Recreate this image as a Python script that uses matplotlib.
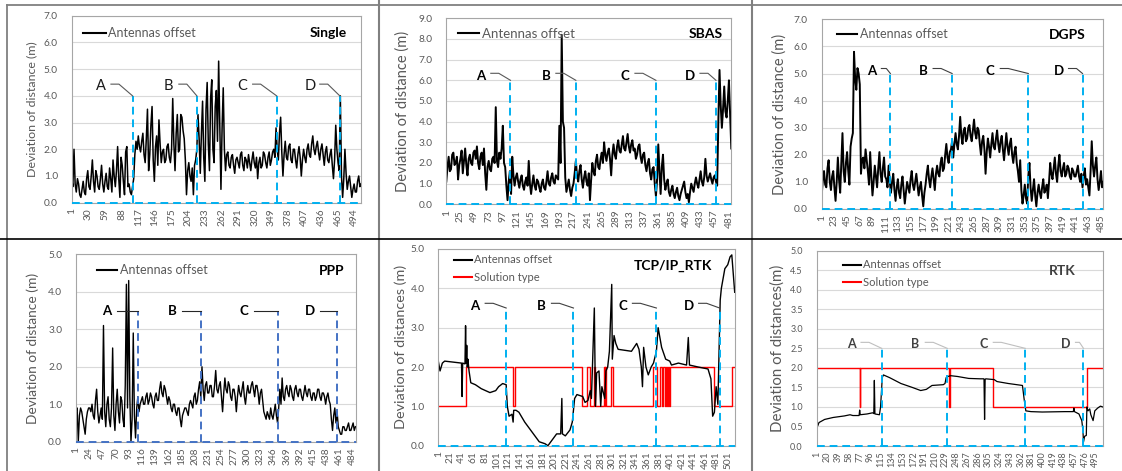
import matplotlib as mpl
import matplotlib.pyplot as plt
import numpy as np
from matplotlib.lines import Line2D
from matplotlib.ticker import FormatStrFormatter

mpl.rcParams['font.family'] = ['Lato', 'DejaVu Sans']

W, H = 1122, 471          # output size in pixels (dpi 100)
GREY = '#595959'
SKY = '#00b0f0'

# antenna offset (m), one value every 2nd epoch starting at epoch 1
single_offset = [
    0.9, 0.6, 2.0, 0.7, 0.4, 0.9, 0.7, 0.3, 0.2, 0.5, 0.8, 0.4, 0.3, 0.9, 1.2, 0.6, 0.5, 1.0, 1.6, 0.8,
    0.4, 1.2, 1.0, 0.6, 0.5, 0.9, 1.4, 0.7, 0.4, 0.8, 1.1, 0.6, 0.5, 1.3, 0.9, 0.4, 1.6, 1.0, 0.6, 1.2,
    2.1, 0.9, 0.2, 1.7, 1.4, 0.8, 0.3, 1.9, 2.1, 0.6, 0.7, 0.4, 0.3, 0.6, 0.9, 1.8, 2.3, 2.0, 2.5, 2.1,
    1.9, 2.3, 2.6, 1.8, 1.5, 2.4, 3.5, 1.2, 1.8, 2.9, 3.6, 1.6, 0.8, 2.1, 2.5, 1.4, 3.1, 2.2, 1.5, 1.9,
    2.0, 1.5, 1.6, 2.1, 2.2, 1.7, 1.5, 2.0, 3.9, 2.2, 1.2, 2.6, 3.3, 1.9, 2.0, 3.3, 3.2, 2.7, 2.4, 1.6,
    0.3, 1.2, 1.5, 1.0, 0.8, 1.3, 0.3, 1.4, 1.6, 2.0, 3.3, 2.4, 1.1, 2.6, 3.8, 1.7, 0.8, 3.5, 4.5, 2.2,
    1.2, 3.9, 4.6, 2.0, 1.5, 3.6, 4.2, 2.3, 5.3, 3.0, 0.5, 2.8, 4.3, 2.0, 1.2, 1.8, 1.9, 1.4, 1.3, 1.7,
    1.8, 1.4, 1.1, 1.6, 1.7, 1.5, 1.3, 1.8, 1.9, 1.4, 1.2, 1.7, 1.6, 1.3, 1.8, 1.5, 1.2, 1.6, 1.9, 1.5,
    1.3, 1.7, 0.9, 1.5, 1.7, 1.3, 1.4, 1.9, 1.8, 1.5, 1.3, 1.7, 1.9, 1.4, 1.6, 1.9, 2.0, 1.7, 2.8, 2.0,
    1.6, 2.6, 3.2, 1.9, 1.0, 1.8, 2.3, 1.7, 1.6, 2.1, 2.2, 1.6, 1.5, 2.0, 2.0, 1.6, 1.3, 1.8, 2.1, 1.7,
    1.0, 1.6, 2.0, 1.7, 1.5, 2.0, 2.2, 1.8, 1.7, 2.2, 2.5, 2.0, 1.8, 2.1, 2.3, 1.9, 1.6, 2.0, 2.2, 1.8,
    1.4, 1.9, 2.1, 1.6, 1.5, 1.8, 2.0, 1.4, 0.9, 1.6, 2.9, 2.0, 1.5, 1.2, 4.0, 1.0, 0.2, 0.9, 2.0, 1.1,
    0.5, 0.8, 1.0, 0.6, 0.2, 0.5, 0.7, 0.4, 0.4, 0.8, 1.0, 0.6, 0.7]

sbas_offset = [
    1.1, 1.8, 2.3, 1.6, 1.7, 2.4, 2.5, 1.9, 2.0, 2.3, 1.2, 1.9, 2.2, 2.6, 1.5, 2.1, 2.7, 1.9, 1.4, 2.2,
    2.4, 2.0, 1.9, 2.5, 2.6, 2.2, 2.8, 2.0, 1.7, 2.3, 2.5, 1.9, 2.7, 1.5, 0.7, 1.8, 2.1, 1.7, 1.6, 2.2,
    2.3, 2.0, 4.7, 2.1, 1.8, 2.5, 2.2, 2.7, 3.8, 2.0, 1.8, 0.9, 0.2, 1.1, 1.6, 0.5, 2.3, 1.4, 0.9, 1.3,
    1.5, 1.1, 0.8, 1.2, 1.4, 0.9, 0.7, 1.1, 1.3, 0.9, 2.1, 1.0, 0.5, 1.0, 1.4, 0.9, 0.7, 1.2, 1.1, 0.8,
    0.6, 1.0, 1.2, 0.8, 0.7, 1.1, 1.6, 1.0, 0.9, 1.3, 1.5, 1.1, 1.0, 1.4, 1.3, 1.2, 3.8, 2.0, 8.2, 4.0,
    3.7, 1.3, 0.6, 0.9, 1.2, 0.7, 0.4, 0.8, 1.0, 1.5, 2.1, 1.4, 1.1, 1.6, 1.9, 1.2, 0.8, 1.3, 1.6, 1.1,
    0.9, 1.5, 0.2, 1.2, 2.0, 1.6, 1.4, 2.1, 2.4, 1.8, 1.7, 2.2, 2.5, 2.0, 3.0, 2.4, 2.1, 2.5, 2.7, 2.2,
    1.4, 2.4, 2.9, 2.4, 2.2, 2.8, 3.1, 2.6, 2.5, 2.9, 3.3, 2.7, 2.6, 3.0, 3.4, 2.8, 2.5, 2.9, 3.1, 2.6,
    2.7, 2.2, 2.4, 2.8, 2.9, 2.3, 2.0, 2.4, 2.5, 1.9, 1.6, 2.0, 2.2, 1.5, 1.2, 1.7, 1.8, 1.0, 0.4, 1.2,
    2.9, 1.6, 0.5, 1.8, 2.4, 1.2, 0.7, 1.0, 1.2, 0.6, 0.4, 0.7, 0.9, 0.5, 0.3, 0.6, 0.8, 0.4, 0.2, 0.5,
    0.7, 0.9, 1.1, 0.6, 0.3, 0.5, 0.1, 0.6, 1.0, 0.8, 0.6, 1.0, 1.3, 1.0, 0.8, 1.2, 1.6, 1.1, 0.9, 1.3,
    2.2, 1.4, 1.1, 1.3, 1.5, 1.2, 1.0, 1.3, 1.4, 1.1, 0.9, 4.0, 6.5, 4.8, 3.7, 4.6, 5.7, 4.5, 4.2, 5.0,
    6.0, 4.3, 2.7]

dgps_offset = [
    0.5, 1.1, 1.4, 0.9, 0.8, 1.5, 1.8, 1.0, 0.7, 1.2, 1.4, 0.8, 0.3, 1.0, 1.9, 1.1, 0.6, 1.7, 2.8, 1.4,
    1.0, 1.7, 2.1, 1.4, 0.9, 2.3, 2.6, 2.8, 5.8, 4.8, 4.4, 5.2, 5.0, 4.6, 1.3, 1.8, 1.9, 1.5, 2.2, 1.8,
    1.4, 0.9, 2.1, 1.2, 0.5, 1.0, 1.6, 1.2, 0.8, 1.5, 2.1, 1.3, 1.0, 1.5, 1.9, 1.2, 1.1, 0.8, 1.6, 1.0,
    0.6, 1.0, 1.3, 0.7, 0.3, 0.8, 1.1, 0.6, 0.4, 0.9, 1.2, 0.7, 0.2, 0.6, 1.0, 0.8, 0.6, 1.1, 1.4, 0.9,
    0.7, 1.0, 1.3, 0.9, 0.5, 0.8, 1.0, 0.5, 0.1, 0.6, 0.9, 1.3, 1.6, 1.1, 0.8, 1.2, 1.5, 1.1, 0.7, 1.3,
    1.6, 1.3, 1.2, 1.7, 1.9, 1.4, 1.5, 2.0, 2.4, 1.9, 1.7, 2.1, 2.2, 2.5, 1.9, 2.4, 2.8, 2.4, 2.2, 2.7,
    3.4, 2.7, 2.4, 2.9, 3.0, 2.5, 2.6, 3.0, 3.1, 2.7, 2.5, 2.9, 3.3, 2.8, 2.6, 3.0, 2.9, 2.4, 2.0, 2.5,
    2.7, 2.2, 1.3, 2.1, 2.6, 2.3, 1.9, 2.4, 2.8, 2.3, 2.2, 2.6, 2.9, 2.4, 2.1, 2.5, 2.7, 2.2, 1.8, 2.3,
    2.8, 2.3, 2.0, 2.4, 2.6, 2.0, 1.7, 2.1, 2.3, 1.7, 1.4, 1.0, 1.8, 0.7, 0.2, 0.5, 0.9, 0.4, 0.2, 1.2,
    1.7, 0.8, 0.3, 0.7, 1.1, 0.5, 0.1, 0.6, 0.9, 0.6, 0.4, 0.8, 1.1, 0.6, 0.7, 0.9, 0.4, 1.0, 1.7, 1.3,
    1.1, 1.5, 1.9, 1.3, 1.0, 1.6, 2.0, 1.4, 1.2, 1.5, 1.7, 1.2, 1.3, 1.6, 1.5, 1.2, 1.1, 1.5, 1.4, 1.2,
    1.2, 1.4, 1.6, 1.2, 1.0, 1.3, 0.8, 1.2, 1.5, 0.9, 1.1, 0.8, 0.5, 1.4, 2.5, 1.6, 1.2, 1.6, 1.9, 1.1,
    0.7, 1.0, 1.4, 0.8, 1.0]

ppp_offset = [
    0.8, 0.9, 0.0, 0.7, 0.9, 0.8, 0.6, 0.4, 0.2, 0.6, 0.8, 0.9, 0.9, 0.8, 1.0, 0.7, 0.6, 1.1, 1.4, 0.8,
    0.5, 0.7, 0.9, 0.6, 3.1, 0.8, 0.4, 1.0, 1.2, 0.6, 0.4, 0.9, 2.5, 0.7, 0.3, 1.0, 1.4, 0.8, 0.5, 1.2,
    1.1, 0.6, 0.4, 1.5, 4.2, 0.9, 4.3, 1.2, 0.0, 0.6, 2.9, 0.7, 0.1, 0.9, 1.2, 0.8, 1.0, 1.1, 1.2, 1.0,
    1.0, 1.2, 1.3, 1.0, 1.1, 1.3, 1.2, 1.0, 0.9, 1.2, 1.3, 1.1, 1.1, 1.4, 1.6, 1.3, 1.2, 1.5, 1.4, 1.2,
    1.0, 1.2, 1.1, 0.9, 0.8, 1.0, 1.0, 0.8, 0.7, 0.9, 0.9, 0.6, 0.4, 0.7, 0.8, 0.9, 0.9, 0.8, 0.7, 1.0,
    1.1, 1.0, 0.9, 1.2, 1.3, 1.0, 1.1, 1.4, 1.6, 1.2, 2.0, 1.4, 1.1, 1.5, 1.6, 1.3, 1.3, 1.5, 1.5, 1.2,
    1.2, 1.5, 1.9, 1.4, 1.3, 1.5, 1.6, 1.2, 0.8, 1.3, 1.7, 1.4, 1.3, 1.6, 1.5, 1.2, 1.1, 1.4, 1.4, 1.2,
    0.8, 1.2, 1.5, 1.3, 1.2, 1.4, 1.6, 1.2, 1.0, 1.3, 1.5, 1.3, 1.3, 1.5, 1.6, 1.4, 1.2, 1.5, 1.5, 1.3,
    1.0, 1.3, 1.4, 1.1, 0.8, 0.7, 0.6, 0.8, 0.7, 0.6, 0.9, 0.7, 0.6, 0.8, 1.0, 0.7, 0.5, 0.9, 1.4, 1.0,
    1.7, 1.2, 1.1, 1.4, 1.5, 1.3, 1.2, 1.5, 1.4, 1.2, 1.1, 1.4, 1.5, 1.3, 1.2, 1.4, 1.4, 1.2, 1.1, 1.3,
    1.5, 1.3, 1.2, 1.4, 1.4, 1.2, 1.1, 1.3, 1.3, 1.1, 1.2, 1.4, 1.4, 1.2, 1.1, 1.3, 1.3, 1.2, 1.0, 1.2,
    1.3, 1.1, 1.0, 0.6, 0.3, 0.7, 0.9, 0.5, 0.8, 0.4, 0.3, 0.2, 0.2, 0.4, 0.4, 0.3, 0.3, 0.4, 0.5, 0.3,
    0.3, 0.4, 0.5, 0.3, 0.4]

# TCP/IP_RTK: offset at given epochs, solution type as step changes
tcp_epoch = [1, 4, 8, 12, 41, 42, 43, 47, 48, 49, 50, 51, 52, 54,
             57, 65, 75, 90, 100, 105, 112, 118, 120, 123, 128, 130, 131,
             135, 140, 150, 165, 175, 185, 190, 195, 205, 212, 214, 215,
             220, 228, 232, 236, 240, 250, 254, 259, 263, 265, 270, 272,
             274, 278, 281, 283, 288, 290, 293, 296, 300, 301, 304, 307,
             311, 334, 343, 347, 351, 353, 355, 359, 363, 368, 372, 377,
             380, 386, 393, 400, 403, 415, 429, 432, 434, 449, 466, 471,
             474, 477, 480, 483, 487, 489, 495, 500, 504, 507, 512]
tcp_offset = [2.15, 1.9, 2.1, 2.15, 2.1, 1.25, 2.1, 2.08, 3.05, 2.1, 2.55, 2.0, 2.2, 1.9,
              1.6, 1.55, 1.45, 1.35, 1.4, 1.5, 1.58, 1.55, 1.0, 0.75, 0.8, 0.6, 0.9,
              0.9, 0.85, 0.6, 0.3, 0.1, 0.05, 0.0, 0.1, 0.3, 0.3, 1.2, 0.3,
              0.25, 0.4, 0.6, 1.2, 1.3, 1.25, 1.1, 1.15, 1.4, 1.2, 3.5, 1.0,
              1.85, 1.9, 1.0, 1.5, 1.2, 1.9, 2.0, 2.4, 4.1, 2.2, 2.8, 2.6,
              2.45, 2.4, 2.6, 2.45, 2.0, 1.5, 2.5, 2.0, 1.8, 2.0, 2.1, 2.4,
              3.0, 2.5, 2.2, 2.15, 2.05, 2.1, 2.05, 2.75, 2.05, 2.0, 1.95, 1.7,
              0.75, 0.85, 1.5, 1.05, 3.7, 4.0, 4.5, 4.6, 4.8, 4.85, 3.9]
tcp_sol_epoch = [1, 48, 129, 133, 248, 258, 262, 270, 272, 287,
                 288, 289, 290, 298, 303, 372, 378, 383, 386, 389,
                 391, 393, 395, 397, 399, 401, 477, 508, 512]
tcp_sol_type = [1, 2, 1, 2, 1, 2, 1, 2, 1, 2,
                1, 2, 1, 2, 1, 2, 1, 2, 1, 2,
                1, 2, 1, 2, 1, 2, 1, 2, 2]

# RTK
rtk_epoch = [1, 3, 5, 15, 30, 50, 60, 65, 76, 77, 78, 90, 100, 102, 103, 104,
             112, 114, 117, 119, 130, 150, 170, 185, 195, 205, 225, 228, 230, 233,
             238, 250, 270, 290, 297, 298, 299, 300, 315, 320, 340, 355, 365, 368,
             371, 380, 400, 440, 455, 456, 457, 465, 470, 472, 473, 475, 478, 479,
             481, 484, 486, 490, 493, 498, 503, 507]
rtk_offset = [0.6, 0.52, 0.6, 0.68, 0.73, 0.77, 0.8, 0.78, 0.78, 0.92, 0.8, 0.82, 0.85, 0.83, 1.68, 0.82,
              0.8, 1.0, 1.75, 1.82, 1.75, 1.6, 1.5, 1.42, 1.45, 1.55, 1.57, 1.6, 1.75, 1.78,
              1.8, 1.78, 1.73, 1.72, 1.72, 0.68, 1.7, 1.72, 1.7, 1.65, 1.6, 1.57, 1.55, 1.2,
              0.9, 0.88, 0.87, 0.88, 0.88, 0.97, 0.88, 0.82, 0.65, 0.4, 0.1, 0.25, 0.27, 1.0,
              0.9, 0.95, 0.8, 0.65, 0.9, 0.97, 1.02, 1.0]
rtk_sol_epoch = [1, 77, 78, 235, 236, 313, 479, 507]
rtk_sol_type = [2, 1, 2, 1, 2, 1, 2, 2]

# event epochs (A-D) and marker heights
event_letters = ['A', 'B', 'C', 'D']
single_events, single_mark = [107, 219, 358, 468], 4.0
sbas_events, sbas_mark = [110, 221, 357, 459], 6.0
dgps_events, dgps_mark = [120, 227, 359, 453], 5.0
ppp_events, ppp_mark = [109, 220, 354, 457], 3.5
tcp_events, tcp_mark = [118, 234, 377, 486], 3.5
rtk_events, rtk_mark = [116, 232, 370, 473], 2.5

fig = plt.figure(figsize=(W / 100, H / 100), dpi=100)


def panel(box, n, ymax, ystep, xstep, tick_fs=7.3):
    l, r, t, b = box
    ax = fig.add_axes([l / W, 1 - b / H, (r - l) / W, (b - t) / H])
    ax.set_xlim(1, n)
    ax.set_ylim(0, ymax)
    ax.set_yticks(np.arange(0, ymax + ystep / 2, ystep))
    ax.yaxis.set_major_formatter(FormatStrFormatter('%.1f'))
    ax.set_xticks(np.arange(1, n + 1, xstep))
    ax.tick_params(length=0, labelsize=tick_fs, labelcolor=GREY)
    ax.tick_params(axis='x', rotation=90, pad=4)
    ax.tick_params(axis='y', pad=10)
    ax.grid(axis='y', color='#d9d9d9', lw=0.8)
    ax.set_axisbelow(True)
    for s in ax.spines.values():
        s.set_color('#a6a6a6')
        s.set_linewidth(0.8)
    return ax


def events(ax, box, n, ymax, cats, h, dx, dy, ldy, mark_color, leader_color, **txt):
    l, r, t, b = box
    ppx = (r - l) / (n - 1)    # pixels per epoch
    ppy = (b - t) / ymax       # pixels per metre
    dash = (0, (4, 2.5))
    ax.plot([1, n], [0, 0], color=mark_color, lw=1.4, ls=dash, clip_on=False, zorder=3)
    for letter, c, d in zip(event_letters, cats, dx):
        ax.plot([c, c], [0, h], color=mark_color, lw=1.4, ls=dash, zorder=3)
        ax.text(c + d / ppx, h + dy / ppy, letter, ha='center', va='center', **txt)
        x0 = d + 10
        x1 = min(d + 18, -4)
        ax.plot([c + x0 / ppx, c + x1 / ppx, c], [h + ldy / ppy, h + ldy / ppy, h],
                color=leader_color, lw=0.8, zorder=3)


def labels(ax, box, title, txy, ylabel, ylx, yfs, leg_xy, leg_fs, hl, red=False,
           title_color='k'):
    l, r, t, b = box
    fig.text(txy[0] / W, 1 - txy[1] / H, title, ha='center', va='center',
             fontsize=10, fontweight='bold', color=title_color)
    ax.set_ylabel(ylabel, fontsize=yfs, color=GREY)
    ax.yaxis.set_label_coords((ylx - l) / (r - l), 0.5)
    ax.yaxis.label.set_va('center')
    handles = [Line2D([], [], color='k', lw=1.5)]
    names = ['Antennas offset']
    if red:
        handles.append(Line2D([], [], color='red', lw=1.5))
        names.append('Solution type')
    ax.legend(handles, names, loc='center left',
              bbox_to_anchor=((leg_xy[0] - l) / (r - l), (b - leg_xy[1]) / (b - t)),
              frameon=False, fontsize=leg_fs, handlelength=hl, handletextpad=0.2,
              borderpad=0, borderaxespad=0, labelspacing=0.55, labelcolor=GREY)


bold_letter = dict(fontsize=9.5, fontweight='bold', color='k')

# Single
box = (71.7, 361, 15.7, 202.7)
ax = panel(box, 505, 7, 1, 29)
ax.plot(np.arange(1, 2 * len(single_offset), 2), single_offset, color='k', lw=1.1)
events(ax, box, 505, 7, single_events, single_mark, [-31.6, -28, -34, -30], 9.5, 11.7,
       SKY, '#595959', fontsize=10.5, color='#1a1a1a')
labels(ax, box, 'Single', (328, 33), 'Deviation of distance (m)', 32, 8.9,
       (83, 33), 9, 1.8)

# SBAS
box = (446.3, 730.7, 18.3, 204.3)
ax = panel(box, 484, 9, 1, 24)
ax.plot(np.arange(1, 2 * len(sbas_offset), 2), sbas_offset, color='k', lw=1.4)
events(ax, box, 484, 9, sbas_events, sbas_mark, [-29.7, -30, -31, -26], 4.6, 7,
       SKY, '#595959', **bold_letter)
labels(ax, box, 'SBAS', (706, 34), 'Deviation of distance (m)', 403, 10.5,
       (458, 34), 9.5, 1.6)

# DGPS
box = (821.7, 1102.7, 19.3, 209)
ax = panel(box, 488, 7, 1, 22)
ax.plot(np.arange(1, 2 * len(dgps_offset), 2), dgps_offset, color='k', lw=1.4)
events(ax, box, 488, 7, dgps_events, dgps_mark, [-19, -29, -38, -24], 2.5, 5,
       SKY, '#404040', **bold_letter)
labels(ax, box, 'DGPS', (1067, 35), 'Deviation of distance (m)', 780, 10.5,
       (837, 34), 9, 1.6)

# PPP
box = (76, 356, 254.3, 441.7)
ax = panel(box, 490, 5, 1, 23)
ax.plot(np.arange(1, 2 * len(ppp_offset), 2), ppp_offset, color='k', lw=1.0)
events(ax, box, 490, 5, ppp_events, ppp_mark, [-31, -29, -34, -27], 0, 0,
       '#4472c4', '#262626', **bold_letter)
labels(ax, box, 'PPP', (332, 271), 'Deviation of distance (m)', 33, 9.9,
       (97, 270), 9, 1.6)

# TCP/IP_RTK
box = (438.3, 734.7, 249, 445.7)
ax = panel(box, 512, 5, 1, 20)
ax.plot(tcp_sol_epoch, tcp_sol_type, color='red', lw=1.0, drawstyle='steps-post')
ax.plot(tcp_epoch, tcp_offset, color='k', lw=1.0)
events(ax, box, 512, 5, tcp_events, tcp_mark, [-31, -32, -34, -31], 2.3, 4.7,
       SKY, '#404040', **bold_letter)
labels(ax, box, 'TCP/IP_RTK', (673, 266), 'Deviation of distances (m)', 401, 10.4,
       (454, 268.5), 8, 1.6, red=True)

# RTK
box = (816.7, 1102.7, 250.7, 446)
ax = panel(box, 507, 5, 0.5, 19, tick_fs=6.5)
ax.plot(rtk_sol_epoch, rtk_sol_type, color='red', lw=1.0, drawstyle='steps-post')
ax.plot(rtk_epoch, rtk_offset, color='k', lw=0.9)
events(ax, box, 507, 5, rtk_events, rtk_mark, [-30.7, -32, -42, -18], 4.3, 6,
       SKY, '#bfbfbf', fontsize=9, fontweight='bold', color='#404040')
labels(ax, box, 'RTK', (1062, 271), 'Deviation of distances(m)', 778, 10.8,
       (843, 273.5), 8, 1.6, red=True, title_color='#404040')

# table rules around the six charts
for x in (379, 752):
    fig.add_artist(Line2D([x / W] * 2, [0, 1], color='#808080', lw=1.5))
fig.add_artist(Line2D([6.5 / W] * 2, [0, 1 - 4.5 / H], color='#808080', lw=1.3))
fig.add_artist(Line2D([6.5 / W, 1], [1 - 4.5 / H] * 2, color='#808080', lw=1.3))
fig.add_artist(Line2D([0, 1], [1 - 238.5 / H] * 2, color='k', lw=1.2))

fig.savefig('out.png', dpi=100, facecolor='white')
